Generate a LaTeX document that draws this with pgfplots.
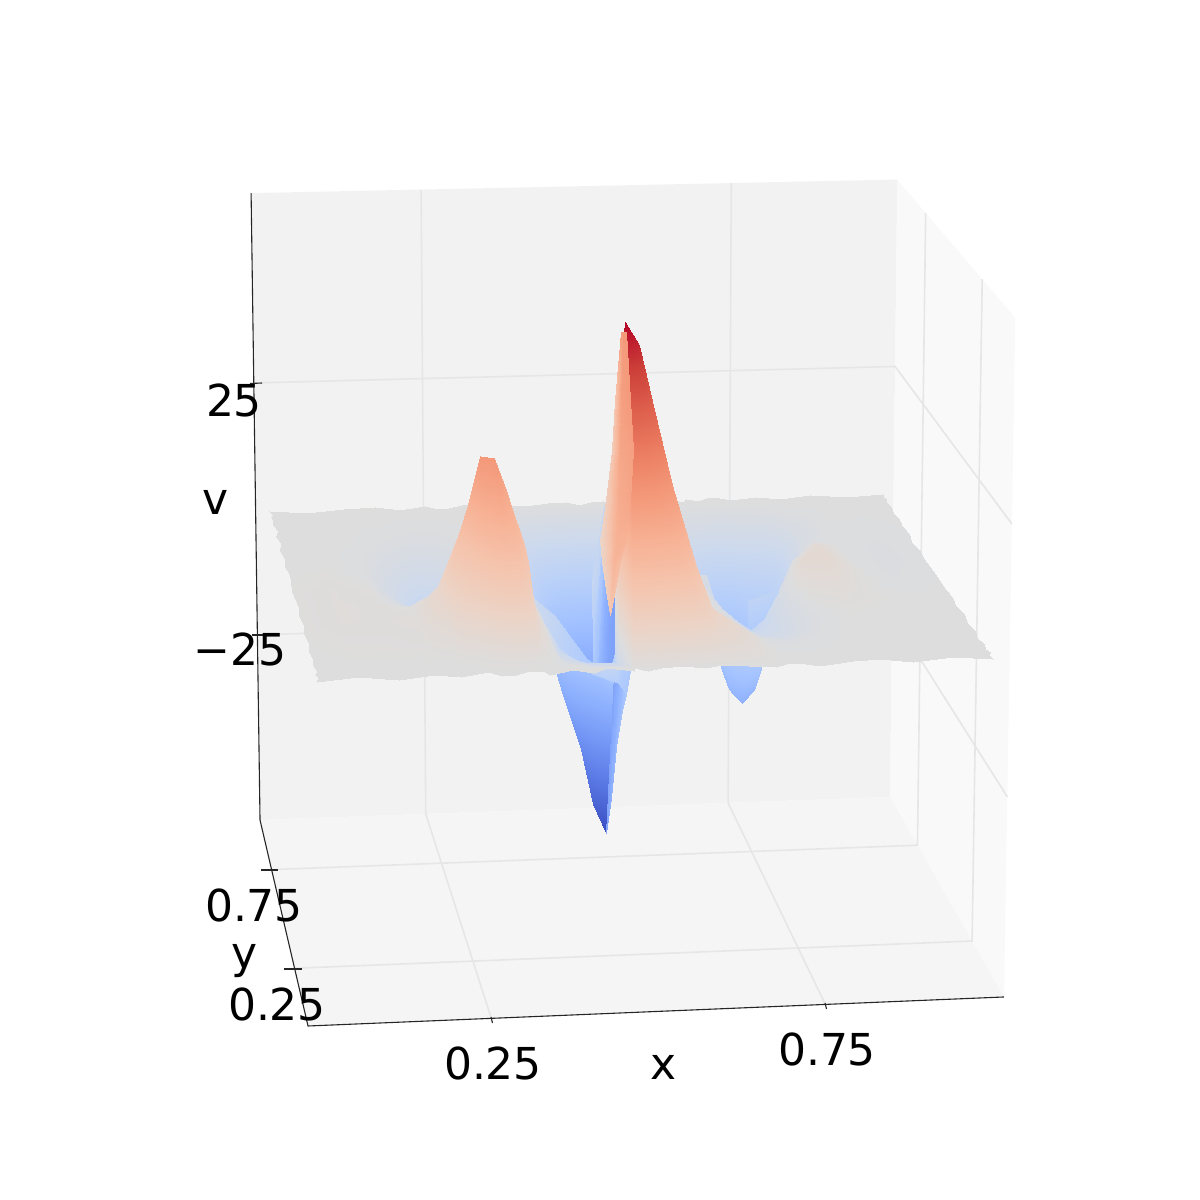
\documentclass[border=0pt]{standalone}
\usepackage{fontspec}
\setmainfont{DejaVu Sans}
\usepackage{pgfplots}
\pgfplotsset{compat=1.18}
% perspective of the box: x, y, v in data units -> picture position
\newcommand\Xn{(0.02+0.96*\thisrow{x})}
\newcommand\Yn{(0.02+0.96*\thisrow{y})}
\newcommand\Zn{(0.5017+0.00804*\thisrow{z})}
\newcommand\Wn{(1+0.01759*\Xn+0.10794*\Yn-0.028*\Zn)}
\newcommand\PX{(308+713.66*\Xn-19.94*\Yn-16.92*\Zn)/\Wn}
\newcommand\PY{(1026-11.47*\Xn-117.49*\Yn-699.84*\Zn)/\Wn}
\newcommand\lab{\fontsize{44}{50}\selectfont}
\definecolor{gridc}{HTML}{E6E6E6}
\pgfkeys{/pgfplots/table/pt/.style={x expr=\PX,y expr=\PY}}
\pgfplotsset{
 colormap={coolwarm}{rgb255=(59,76,192) rgb255=(77,104,215) rgb255=(98,130,234) rgb255=(119,154,247) rgb255=(141,176,254) rgb255=(163,194,255) rgb255=(184,208,249) rgb255=(204,217,238) rgb255=(221,221,221) rgb255=(236,211,197) rgb255=(245,196,173) rgb255=(247,177,148) rgb255=(244,154,123) rgb255=(236,127,99) rgb255=(222,96,77) rgb255=(203,62,56) rgb255=(180,4,38)},
 gl/.style={draw=gridc,line width=1.6pt,forget plot},
 ax/.style={draw=black!85,line width=1.1pt,forget plot},
 sf/.style={surf,shader=interp,mesh/cols=31,point meta=\thisrow{z},forget plot},
 wl/.style={surf,shader=interp,mesh/cols=2,point meta=\thisrow{m},forget plot},
}
\begin{document}
\begin{tikzpicture}
\path[use as bounding box] (0,0) rectangle (1200pt,1200pt);
\begin{axis}[at={(0,0)},anchor=south west,scale only axis,width=1200pt,height=1200pt,xmin=0,xmax=1200,ymin=0,ymax=1200,y dir=reverse,axis lines=none,clip=false,colormap name=coolwarm,point meta min=-59.7,point meta max=59.7]
% panes
\addplot[fill=black!5,draw=none,forget plot] table[pt]{
x y z
-0.0208 1.0208 -62.4
1.0208 1.0208 -62.4
1.0208 1.0208 62
-0.0208 1.0208 62
};
\addplot[fill=black!2.5,draw=none,forget plot] table[pt]{
x y z
1.0208 -0.0208 -62.4
1.0208 1.0208 -62.4
1.0208 1.0208 62
1.0208 -0.0208 62
};
\addplot[fill=black!4,draw=none,forget plot] table[pt]{
x y z
-0.0208 -0.0208 -62.4
1.0208 -0.0208 -62.4
1.0208 1.0208 -62.4
-0.0208 1.0208 -62.4
};
% grid
\addplot[gl] table[pt]{
x y z
0.25 -0.0208 -62.4
0.25 1.0208 -62.4
0.25 1.0208 62
};
\addplot[gl] table[pt]{
x y z
0.75 -0.0208 -62.4
0.75 1.0208 -62.4
0.75 1.0208 62
};
\addplot[gl] table[pt]{
x y z
-0.0208 0.25 -62.4
1.0208 0.25 -62.4
1.0208 0.25 62
};
\addplot[gl] table[pt]{
x y z
-0.0208 0.75 -62.4
1.0208 0.75 -62.4
1.0208 0.75 62
};
\addplot[gl] table[pt]{
x y z
-0.0208 1.0208 25
1.0208 1.0208 25
1.0208 -0.0208 25
};
\addplot[gl] table[pt]{
x y z
-0.0208 1.0208 -25
1.0208 1.0208 -25
1.0208 -0.0208 -25
};
% axis lines
\addplot[ax] table[pt]{
x y z
-0.0208 1.0208 62
-0.0208 1.0208 -62.4
-0.0208 -0.0208 -62.4
1.0208 -0.0208 -62.4
};
\addplot[ax] coordinates {(261,870) (278,870)};
\addplot[ax] coordinates {(284,969) (302,969)};
\addplot[ax] coordinates {(491,1017) (492.5,1023)};
\addplot[ax] coordinates {(825,1003) (826.5,1009)};
\addplot[ax] coordinates {(250,383.5) (262,383)};
\addplot[ax] coordinates {(252,635) (264,635)};
% surface, back part
\addplot[sf] table[pt]{
x y z
0 1 .3
.06 1 -.4
.12 1 .2
.17 1 .4
.21 1 -.3
.25 1 .3
.27 1 -.3
.29 1 -.2
.31 1 .3
.33 1 .4
.415 1 -.3
.45 1 .2
.48 1 .4
.5 1 -.4
.52 1 .2
.54 1 .3
.56 1 -.3
.58 1 .4
.61 1 -.2
.645 1 .3
.67 1 -.4
.675 1 .2
.695 1 -.3
.71 1 .4
.73 1 .2
.75 1 -.3
.79 1 .3
.83 1 -.2
.88 1 .4
.94 1 -.3
1 1 .2
.004 .985 0
.06 .985 0
.12 .985 0
.17 .985 0
.21 .985 0
.25 .985 0
.27 .985 0
.29 .985 0
.31 .985 0
.33 .985 -.3
.415 .985 -3.3
.45 .985 -6.7
.48 .985 -10.4
.5 .985 -13.4
.52 .985 -14.9
.54 .985 0
.56 .985 0
.58 .985 0
.61 .985 0
.645 .985 -.1
.67 .985 -.2
.675 .985 -.2
.695 .985 -.3
.71 .985 -.3
.73 .985 -.3
.75 .985 -.2
.79 .985 -.1
.83 .985 0
.88 .985 0
.94 .985 0
.997 .985 0
0 .97 0
.06 .97 0
.12 .97 0
.17 .97 0
.21 .97 0
.25 .97 0
.27 .97 0
.29 .97 0
.31 .97 0
.33 .97 -.6
.415 .97 -6.6
.45 .97 -13.4
.48 .97 -20.9
.5 .97 -26.8
.52 .97 -29.8
.54 .97 0
.56 .97 0
.58 .97 0
.61 .97 -.1
.645 .97 -.4
.67 .97 -.7
.675 .97 -.8
.695 .97 -1.1
.71 .97 -1.2
.73 .97 -1.1
.75 .97 -.9
.79 .97 -.3
.83 .97 0
.88 .97 0
.94 .97 0
1 .97 0
.003 .95 0
.06 .95 0
.12 .95 0
.17 .95 0
.21 .95 -.1
.25 .95 -.1
.27 .95 -.1
.29 .95 0
.31 .95 0
.33 .95 -.8
.415 .95 -8.9
.45 .95 -18.2
.48 .95 -28.4
.5 .95 -36.5
.52 .95 -40.5
.54 .95 -2
.56 .95 -1
.58 .95 0
.61 .95 -.2
.645 .95 -.9
.67 .95 -1.9
.675 .95 -2.1
.695 .95 -2.8
.71 .95 -3.1
.73 .95 -2.9
.75 .95 -2.3
.79 .95 -1.5
.83 .95 -.1
.88 .95 0
.94 .95 0
.996 .95 0
0 .92 0
.06 .92 0
.12 .92 0
.17 .92 -.1
.21 .92 -.3
.25 .92 -.3
.27 .92 -.2
.29 .92 -.1
.31 .92 -.1
.33 .92 -1
.415 .92 -10.5
.45 .92 -21.4
.48 .92 -33.3
.5 .92 -42.8
.52 .92 -47.6
.54 .92 -4
.56 .92 -3
.58 .92 -1
.61 .92 -.7
.645 .92 -2.3
.67 .92 -4.7
.675 .92 -5.2
.695 .92 -7.1
.71 .92 -7.7
.73 .92 -7.4
.75 .92 -5.8
.79 .92 -5
.83 .92 -1
.88 .92 -.1
.94 .92 -.1
1 .92 0
.005 .88 0
.06 .88 0
.12 .88 0
.17 .88 -.4
.21 .88 -.8
.25 .88 -.7
.27 .88 -.5
.29 .88 -.3
.31 .88 -.1
.33 .88 -1.1
.415 .88 -13
.45 .88 -26
.48 .88 -36.7
.5 .88 -47.2
.52 .88 -52.4
.54 .88 -6
.56 .88 -4
.58 .88 -2
.61 .88 -1.5
.645 .88 -4.7
.67 .88 -9.3
.675 .88 -10.4
.695 .88 -14.1
.71 .88 -15.3
.73 .88 -14.7
.75 .88 -11.4
.79 .88 -10
.83 .88 -2.5
.88 .88 -.1
.94 .88 -.2
.996 .88 -.1
0 .84 0
.06 .84 0
.12 .84 -.1
.17 .84 -.7
.21 .84 -1.4
.25 .84 -1.3
.27 .84 -.9
.29 .84 -.5
.31 .84 -.3
.33 .84 -1.2
.415 .84 -14.5
.45 .84 -30
.48 .84 -41
.5 .84 -51.4
.52 .84 -57.1
.54 .84 -9
.56 .84 -7
.58 .84 -4
.61 .84 -2.6
.645 .84 -6.7
.67 .84 -13.4
.675 .84 -14.9
.695 .84 -20.2
.71 .84 -22
.73 .84 -21
.75 .84 -16.2
.79 .84 -14
.83 .84 -3
.88 .84 -.2
.94 .84 -.3
1 .84 -.1
.004 .8 0
.06 .8 0
.12 .8 -.2
.17 .8 -1.3
.21 .8 -2.7
.25 .8 -2.4
.27 .8 -1.7
.29 .8 -1
.31 .8 -.5
.33 .8 -1.4
.415 .8 -16
.45 .8 -31
.48 .8 -42.5
.5 .8 -53.6
.52 .8 -59.5
.54 .8 -12
.56 .8 -10
.58 .8 -7
.61 .8 -3
.645 .8 -7.8
.67 .8 -15.8
.675 .8 -17.5
.695 .8 -23.7
.71 .8 -25.8
.73 .8 -24.6
.75 .8 -18.9
.79 .8 -14
.83 .8 -3
.88 .8 -.3
.94 .8 -.5
.997 .8 -.2
};
\addplot[wl] table[pt]{
x y z m
.52 .985 -14.9 -9
.54 .985 0 -9
.52 .97 -29.8 -18
.54 .97 0 -18
.52 .95 -40.5 -25
.54 .95 -2 -25
.52 .92 -47.6 -30
.54 .92 -4 -30
.52 .88 -52.4 -33
.54 .88 -6 -33
.52 .84 -57.1 -35
.54 .84 -9 -35
.52 .8 -59.5 -35
.54 .8 -12 -35
};
% surface, middle part
\addplot[sf] table[pt]{
x y z
.004 .8 0
.06 .8 0
.12 .8 -.2
.17 .8 -1.3
.21 .8 -2.7
.25 .8 -2.4
.27 .8 -1.7
.29 .8 -1
.31 .8 -.5
.33 .8 -1.4
.415 .8 -16
.45 .8 -31
.48 .8 -42.5
.5 .8 -53.6
.52 .8 -59.5
.54 .8 -12
.56 .8 -10
.58 .8 -7
.61 .8 -3
.645 .8 -7.8
.67 .8 -15.8
.683 .8 -17.5
.703 .8 -23.7
.718 .8 -25.8
.738 .8 -24.6
.758 .8 -18.9
.79 .8 -14
.83 .8 -3
.88 .8 -.3
.94 .8 -.5
.997 .8 -.2
0 .75 0
.06 .75 0
.12 .75 -.4
.17 .75 -2.4
.21 .75 -4.8
.25 .75 -4.3
.27 .75 -3.1
.29 .75 -1.8
.31 .75 -.9
.33 .75 -1.4
.417 .75 -13.5
.452 .75 -27
.482 .75 -37
.502 .75 -45.5
.522 .75 -50.6
.542 .75 -13
.562 .75 -11
.582 .75 -8
.612 .75 -4
.647 .75 -7.1
.67 .75 -15.8
.683 .75 -19.6
.703 .75 -26.5
.718 .75 -28.6
.738 .75 -27
.758 .75 -20.4
.79 .75 -13
.83 .75 -2
.88 .75 -.4
.94 .75 -.8
1 .75 -.3
.003 .7 0
.06 .7 0
.12 .7 -.5
.17 .7 -3.7
.21 .7 -7.4
.25 .7 -6.7
.27 .7 -4.8
.29 .7 -2.7
.31 .7 -1.3
.33 .7 -1.3
.419 .7 -12
.454 .7 -21
.484 .7 -28.5
.504 .7 -34.8
.524 .7 -38.7
.544 .7 -13
.564 .7 -11
.584 .7 -8
.614 .7 -4
.649 .7 -5.8
.67 .7 -14.4
.683 .7 -20.5
.703 .7 -27.6
.718 .7 -29.7
.738 .7 -27.7
.758 .7 -20.5
.79 .7 -10
.83 .7 -.5
.88 .7 -.4
.94 .7 -1.2
.996 .7 -.4
0 .65 0
.06 .65 .1
.12 .65 -.6
.17 .65 -4.7
.21 .65 -9.5
.25 .65 -8.6
.27 .65 -6.1
.29 .65 -3.5
.31 .65 -1.7
.33 .65 -1.3
.422 .65 -11
.457 .65 -17
.487 .65 -22
.507 .65 -26.8
.527 .65 -29.8
.547 .65 -12
.567 .65 -10
.587 .65 -7
.617 .65 -3
.652 .65 -4.3
.67 .65 -12
.683 .65 -20.3
.703 .65 -27.2
.718 .65 -29.1
.738 .65 -26.7
.758 .65 -19
.79 .65 -5
.83 .65 1.9
.88 .65 -.3
.94 .65 -1.3
1 .65 -.4
.004 .6 .1
.06 .6 .3
.12 .6 -.5
.17 .6 -5.1
.21 .6 -10.4
.25 .6 -9.5
.27 .6 -6.7
.29 .6 -3.9
.31 .6 -1.9
.33 .6 -1.3
.423 .6 -12
.458 .6 -17
.488 .6 -20
.508 .6 -22.5
.528 .6 -25
.548 .6 -10
.568 .6 -9
.588 .6 -6
.618 .6 -2
.653 .6 -2.4
.67 .6 -8.6
.683 .6 -17
.703 .6 -22.7
.718 .6 -23.7
.738 .6 -21.5
.758 .6 -14.5
.79 .6 -.2
.83 .6 2.9
.88 .6 -.1
.94 .6 -1.4
.997 .6 -.4
0 .5 .2
.06 .5 .8
.12 .5 .3
.17 .5 -3.2
.21 .5 -6.4
.25 .5 -4.3
.27 .5 -1.9
.29 .5 .2
.31 .5 1.1
.33 .5 .8
.385 .5 -10
.42 .5 -14
.45 .5 -16
.47 .5 -17
.49 .5 -17
.51 .5 -8
.53 .5 -8
.55 .5 -6
.58 .5 -2
.615 .5 -1
.64 .5 -1.8
.675 .5 -7.1
.695 .5 -9.6
.71 .5 -9.9
.73 .5 -7.9
.75 .5 -3.9
.79 .5 3.4
.83 .5 3.6
.88 .5 .3
.94 .5 -.9
1 .5 -.3
};
\addplot[wl] table[pt]{
x y z m
.52 .8 -59.5 -34
.54 .8 -12 -34
.522 .75 -50.6 -30
.542 .75 -13 -30
.524 .7 -38.7 -26
.544 .7 -13 -26
.527 .65 -29.8 -22
.547 .65 -12 -22
.528 .6 -25 -19
.548 .6 -10 -19
.49 .5 -17 -14
.51 .5 -8 -14
};
% far slope of the right-hand trough seen past the nearer sheet
\addplot[wl] table{
x y m
748 600 -12
778 590 -12
748 645 -20
775 630 -20
};
% surface, front part
\addplot[sf] table[pt]{
x y z
0 .5 .2
.06 .5 .8
.12 .5 .3
.17 .5 -3.2
.21 .5 -6.4
.25 .5 -4.3
.27 .5 -1.9
.29 .5 .2
.31 .5 1.1
.33 .5 .8
.385 .5 -10
.42 .5 -14
.45 .5 -16
.47 .5 -17
.51 .5 -17
.51 .5 -8
.53 .5 -8
.55 .5 -6
.58 .5 -2
.615 .5 -1
.64 .5 -1.8
.675 .5 -7.1
.695 .5 -9.6
.71 .5 -9.9
.73 .5 -7.9
.75 .5 -3.9
.79 .5 3.4
.83 .5 3.6
.88 .5 .3
.94 .5 -.9
1 .5 -.3
.004 .4 .2
.06 .4 .8
.12 .4 .7
.17 .4 -.1
.21 .4 2.4
.25 .4 10.8
.27 .4 14.5
.29 .4 15.2
.31 .4 12.7
.33 .4 8.4
.365 .4 -3
.4 .4 -9
.43 .4 -12
.45 .4 -14
.49 .4 -16
.49 .4 13
.51 .4 12.1
.53 .4 9.9
.56 .4 6.5
.595 .4 3
.62 .4 .8
.675 .4 -5
.695 .4 -6.7
.71 .4 -6.9
.73 .4 -5.8
.75 .4 -3.4
.79 .4 1.2
.83 .4 1.7
.88 .4 .2
.94 .4 -.3
.997 .4 -.1
0 .35 .2
.06 .35 .8
.12 .35 .7
.17 .35 .6
.21 .35 5
.25 .35 17
.27 .35 24
.29 .35 24.5
.31 .35 19
.33 .35 12.7
.355 .35 1
.39 .35 -8
.42 .35 -10
.44 .35 -11
.48 .35 -12
.48 .35 15.5
.5 .35 14.4
.52 .35 11.8
.55 .35 7.8
.585 .35 3.8
.61 .35 1.4
.675 .35 -4.2
.695 .35 -5.6
.71 .35 -5.9
.73 .35 -5.2
.75 .35 -3.4
.79 .35 .2
.83 .35 .9
.88 .35 .3
.94 .35 -.1
1 .35 0
.003 .3 .2
.06 .3 .8
.12 .3 .7
.17 .3 1
.21 .3 6
.25 .3 21
.27 .3 30.5
.29 .3 30
.31 .3 23.5
.33 .3 15.4
.35 .3 3
.385 .3 -6
.415 .3 -8
.435 .3 -9
.475 .3 -9
.475 .3 19
.495 .3 17.7
.515 .3 14.4
.545 .3 9.5
.58 .3 4.7
.605 .3 2.1
.675 .3 -3.3
.695 .3 -4.4
.71 .3 -4.7
.73 .3 -4.3
.75 .3 -3.1
.79 .3 -.5
.83 .3 .3
.88 .3 .1
.94 .3 0
.996 .3 0
0 .25 .2
.06 .25 .6
.12 .25 .6
.17 .25 .8
.21 .25 5
.25 .25 18
.27 .25 27
.29 .25 29.5
.31 .25 23.2
.33 .25 15.5
.345 .25 4
.38 .25 -5
.41 .25 -6.5
.43 .25 -7
.47 .25 -7
.47 .25 29.8
.49 .25 27.7
.51 .25 22.6
.54 .25 14.9
.575 .25 7.5
.6 .25 3.6
.675 .25 -2.3
.695 .25 -3.1
.71 .25 -3.4
.73 .25 -3.2
.75 .25 -2.4
.79 .25 -.6
.83 .25 .1
.88 .25 0
.94 .25 0
1 .25 0
.004 .2 .1
.06 .2 .4
.12 .2 .4
.17 .2 .6
.21 .2 3
.25 .2 13
.27 .2 20
.29 .2 25
.31 .2 21
.33 .2 13.7
.34 .2 5
.375 .2 -4
.405 .2 -5
.425 .2 -6
.465 .2 -6
.465 .2 41.7
.485 .2 38.8
.505 .2 31.7
.535 .2 20.9
.57 .2 10.4
.595 .2 5
.675 .2 -1.3
.695 .2 -1.8
.71 .2 -2
.73 .2 -1.9
.75 .2 -1.4
.79 .2 -.4
.83 .2 0
.88 .2 0
.94 .2 0
.997 .2 0
0 .15 .1
.06 .15 .3
.12 .15 .3
.17 .15 .4
.21 .15 1.5
.25 .15 7.5
.27 .15 13
.29 .15 18
.31 .15 17
.33 .15 10.4
.34 .15 4
.375 .15 -3
.405 .15 -3.5
.425 .15 -4
.465 .15 -4
.465 .15 52.4
.485 .15 48.7
.505 .15 39.8
.535 .15 26.2
.57 .15 13.1
.595 .15 6.3
.675 .15 -.2
.695 .15 -.9
.71 .15 -1
.73 .15 -.9
.75 .15 -.7
.79 .15 -.2
.83 .15 0
.88 .15 0
.94 .15 0
1 .15 0
.003 .11 0
.06 .11 .2
.12 .11 .2
.17 .11 .2
.21 .11 .5
.25 .11 3
.27 .11 6
.29 .11 10
.31 .11 11
.33 .11 6.8
.34 .11 2.5
.375 .11 -2
.405 .11 -2.5
.425 .11 -3
.465 .11 -3
.465 .11 59.5
.485 .11 55.3
.505 .11 45.2
.535 .11 29.8
.57 .11 14.9
.595 .11 7.1
.675 .11 .2
.695 .11 -.5
.71 .11 -.6
.73 .11 -.6
.75 .11 -.4
.79 .11 -.1
.83 .11 0
.88 .11 0
.94 .11 0
.996 .11 0
0 .08 0
.06 .08 .1
.12 .08 .1
.17 .08 .1
.21 .08 0
.25 .08 .8
.27 .08 2
.29 .08 4
.31 .08 5
.33 .08 3.2
.34 .08 1
.375 .08 -1
.405 .08 -1.5
.425 .08 -2
.465 .08 -2
.465 .08 55.3
.485 .08 51.4
.505 .08 42
.535 .08 27.7
.57 .08 13.8
.595 .08 6.6
.675 .08 .3
.695 .08 -.3
.71 .08 -.3
.73 .08 -.3
.75 .08 -.2
.79 .08 0
.83 .08 0
.88 .08 0
.94 .08 0
1 .08 0
.004 .05 0
.06 .05 0
.12 .05 0
.17 .05 0
.21 .05 0
.25 .05 .2
.27 .05 .4
.29 .05 .7
.31 .05 .8
.33 .05 .5
.34 .05 .1
.375 .05 -.5
.405 .05 -.8
.425 .05 -1
.465 .05 -1
.465 .05 42.8
.485 .05 39.8
.505 .05 32.5
.535 .05 21.4
.57 .05 10.7
.595 .05 5.1
.675 .05 .3
.695 .05 0
.71 .05 0
.73 .05 0
.75 .05 0
.79 .05 0
.83 .05 0
.88 .05 0
.94 .05 0
.997 .05 0
0 .03 0
.06 .03 0
.12 .03 0
.17 .03 0
.21 .03 0
.25 .03 .2
.27 .03 .3
.29 .03 .3
.31 .03 .2
.33 .03 .2
.34 .03 0
.375 .03 -.2
.405 .03 -.4
.425 .03 -.5
.465 .03 -.5
.465 .03 29.8
.485 .03 27.7
.505 .03 22.6
.535 .03 14.9
.57 .03 7.5
.595 .03 3.6
.675 .03 .2
.695 .03 0
.71 .03 0
.73 .03 0
.75 .03 0
.79 .03 0
.83 .03 0
.88 .03 0
.94 .03 0
1 .03 0
.003 .015 0
.06 .015 0
.12 .015 0
.17 .015 0
.21 .015 0
.25 .015 0
.27 .015 0
.29 .015 0
.31 .015 0
.33 .015 0
.34 .015 0
.375 .015 0
.405 .015 0
.425 .015 0
.465 .015 0
.465 .015 14.9
.485 .015 13.9
.505 .015 11.3
.535 .015 7.5
.57 .015 3.7
.595 .015 1.8
.675 .015 .1
.695 .015 0
.71 .015 0
.73 .015 0
.75 .015 0
.79 .015 0
.83 .015 0
.88 .015 0
.94 .015 0
.996 .015 0
0 0 -.3
.06 0 .3
.12 0 -.4
.17 0 .2
.21 0 -.3
.25 0 .4
.27 0 -.3
.29 0 -.2
.31 0 .4
.33 0 .3
.34 0 -.4
.375 0 .3
.405 0 -.3
.425 0 .4
.465 0 -.2
.465 0 .3
.485 0 -.4
.505 0 .2
.535 0 .4
.57 0 -.2
.595 0 .3
.675 0 -.4
.695 0 .3
.71 0 .3
.73 0 -.3
.75 0 -.3
.79 0 .2
.83 0 .4
.88 0 -.3
.94 0 .3
1 0 -.2
};
% steep face beside the crest, in picture position with its colour value
\addplot[surf,shader=interp,mesh/cols=3,point meta=\thisrow{m},forget plot] table{
x y m
621 332 30
623 332 30
626 332 30
615 400 14
621 400 28
630 400 30
612 450 12
620 450 26
633 450 28
606 500 10
618 500 24
630 500 26
600 540 6
616 540 22
626 540 22
602 562 7
614 562 21
620 562 18
606 590 9
612 590 18
615 590 16
610 615 14
610 615 14
610 615 14
};
\node[anchor=base] at (axis cs:234,416) {\lab 25};
\node[anchor=base] at (axis cs:240,665) {\lab −25};
\node[anchor=base] at (axis cs:216,514) {\lab v};
\node[anchor=base] at (axis cs:254,921) {\lab 0.75};
\node[anchor=base] at (axis cs:245,968) {\lab y};
\node[anchor=base] at (axis cs:277,1020) {\lab 0.25};
\node[anchor=base] at (axis cs:493,1079) {\lab 0.25};
\node[anchor=base] at (axis cs:664,1079) {\lab x};
\node[anchor=base] at (axis cs:827,1065) {\lab 0.75};
\end{axis}
\end{tikzpicture}
\end{document}
